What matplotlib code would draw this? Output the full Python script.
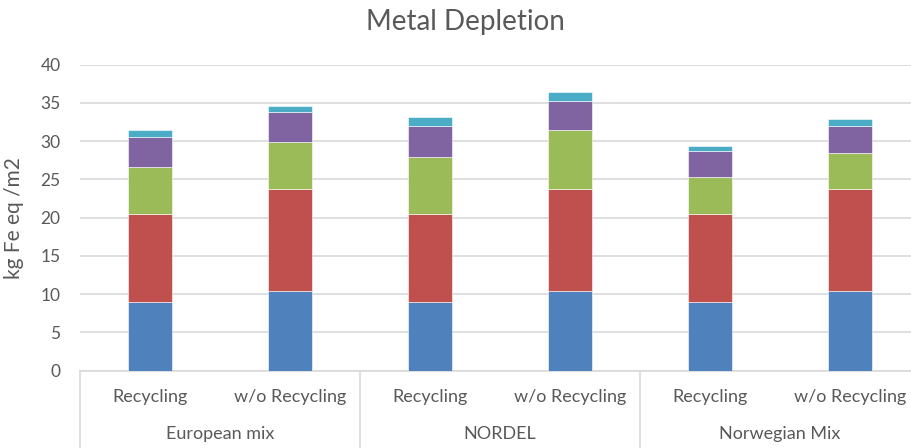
import matplotlib.pyplot as plt
import numpy as np

# categories
groups = ['European mix', 'NORDEL', 'Norwegian Mix']
scenarios = ['Recycling', 'w/o Recycling']

# stacked segment values (bottom to top), one entry per bar
seg1 = [8.95, 10.45, 8.95, 10.45, 8.95, 10.45]
seg2 = [11.55, 13.3, 11.55, 13.3, 11.55, 13.3]
seg3 = [6.1, 6.1, 7.4, 7.65, 4.8, 4.75]
seg4 = [3.9, 3.95, 4.1, 3.9, 3.45, 3.5]
seg5 = [0.9, 0.85, 1.1, 1.1, 0.65, 0.9]

colors = ['#4F81BD', '#C0504D', '#9BBB59', '#8064A2', '#4BACC6']
text_color = '#595959'
grid_color = '#D9D9D9'

plt.rcParams['font.family'] = ['Lato', 'DejaVu Sans']

fig = plt.figure(figsize=(9.12, 4.48), dpi=100)
ax = fig.add_axes([80 / 912, 77.3 / 448, 840 / 912, 306 / 448])

x = np.arange(len(seg1))
bottom = np.zeros(len(seg1))
for vals, c in zip([seg1, seg2, seg3, seg4, seg5], colors):
    ax.bar(x, vals, width=0.31, bottom=bottom, color=c,
           edgecolor='white', linewidth=0.4, zorder=3)
    bottom += np.array(vals)

ax.set_xlim(-0.5, len(seg1) - 0.5)
ax.set_ylim(0, 40)
ax.set_yticks(np.arange(0, 41, 5))
ax.yaxis.grid(True, color=grid_color, linewidth=1.2, zorder=0)
ax.tick_params(axis='y', length=0, labelsize=12.5, labelcolor=text_color, pad=14)
ax.tick_params(axis='x', length=0, labelbottom=False)
for s in ['top', 'right', 'left']:
    ax.spines[s].set_visible(False)
ax.spines['bottom'].set_color(grid_color)
ax.spines['bottom'].set_linewidth(1.2)

ax.set_ylabel('kg Fe eq /m2', fontsize=15, color=text_color)
ax.yaxis.set_label_coords(-0.067, 0.5)
fig.text(465 / 912, 1 - 22 / 448, 'Metal Depletion', fontsize=20,
         color=text_color, ha='center', va='center')

# two-level category axis
trans = ax.get_xaxis_transform()
for i in x:
    ax.text(i, -0.086, scenarios[i % 2], transform=trans, ha='center',
            va='center', fontsize=13, color=text_color)
for g, name in enumerate(groups):
    ax.text(2 * g + 0.5, -0.207, name, transform=trans, ha='center',
            va='center', fontsize=13, color=text_color)
for sx in np.arange(-0.5, len(seg1), 2):
    ax.plot([sx, sx], [0, -0.26], transform=trans, color=grid_color,
            linewidth=1.2, clip_on=False)

fig.savefig('out.png', dpi=100, facecolor='white')
